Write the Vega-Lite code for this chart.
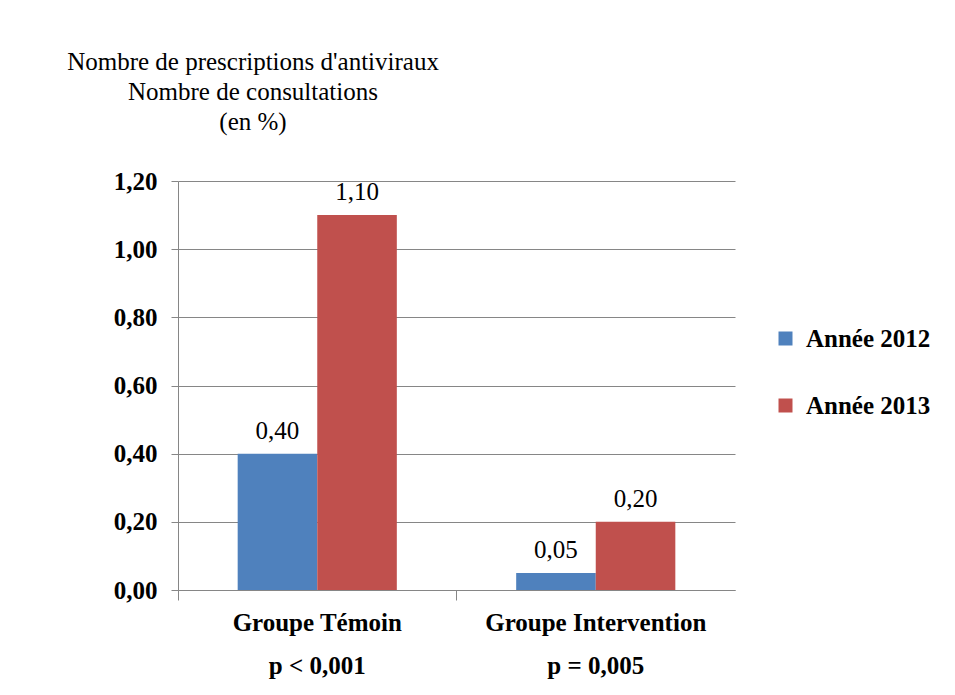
{
  "$schema": "https://vega.github.io/schema/vega-lite/v6.json",
  "autosize": {"type": "none"},
  "padding": {"left": 178, "top": 181, "right": 220, "bottom": 105},
  "width": 557,
  "height": 409,
  "background": "white",
  "title": {
    "text": ["Nombre de prescriptions d'antiviraux", "Nombre de consultations", "(en %)"],
    "anchor": "start",
    "frame": "group",
    "align": "center",
    "dx": 75,
    "offset": 34,
    "font": "Liberation Serif, Times New Roman, serif",
    "fontSize": 25,
    "fontWeight": "normal",
    "color": "black",
    "lineHeight": 30
  },
  "data": {
    "values": [
      {"group": "Groupe Témoin", "p": "p < 0,001", "year": "Année 2012", "value": 0.40},
      {"group": "Groupe Témoin", "p": "p < 0,001", "year": "Année 2013", "value": 1.10},
      {"group": "Groupe Intervention", "p": "p = 0,005", "year": "Année 2012", "value": 0.05},
      {"group": "Groupe Intervention", "p": "p = 0,005", "year": "Année 2013", "value": 0.20}
    ]
  },
  "encoding": {
    "x": {
      "field": "group",
      "type": "nominal",
      "sort": ["Groupe Témoin", "Groupe Intervention"],
      "scale": {"paddingInner": 0, "paddingOuter": 0},
      "axis": {
        "title": null,
        "labelAngle": 0,
        "bandPosition": 0,
        "tickSize": 10,
        "tickColor": "#868686",
        "domainColor": "#868686",
        "labelPadding": 10,
        "labelLimit": 0,
        "labelFont": "Liberation Serif, Times New Roman, serif",
        "labelFontSize": 25,
        "labelFontWeight": "bold",
        "labelColor": "black",
        "labelLineHeight": 43,
        "labelExpr": "datum.value == 'Groupe Témoin' ? ['Groupe Témoin', 'p < 0,001'] : ['Groupe Intervention', 'p = 0,005']"
      }
    },
    "xOffset": {
      "field": "year",
      "type": "nominal",
      "scale": {"paddingInner": 0, "paddingOuter": 0.75}
    },
    "y": {
      "field": "value",
      "type": "quantitative",
      "scale": {"domain": [0, 1.2]},
      "axis": {
        "title": null,
        "values": [0, 0.2, 0.4, 0.6, 0.8, 1.0, 1.2],
        "format": ".2f",
        "tickSize": 7,
        "tickColor": "#868686",
        "domainColor": "#868686",
        "gridColor": "#868686",
        "labelPadding": 14,
        "labelFont": "Liberation Serif, Times New Roman, serif",
        "labelFontSize": 25,
        "labelFontWeight": "bold",
        "labelColor": "black"
      }
    }
  },
  "layer": [
    {
      "mark": {"type": "bar"},
      "encoding": {
        "color": {
          "field": "year",
          "type": "nominal",
          "scale": {"domain": ["Année 2012", "Année 2013"], "range": ["#4F81BD", "#C0504D"]},
          "legend": {
            "title": null,
            "orient": "none",
            "legendX": 595,
            "legendY": 145,
            "padding": 0,
            "symbolType": "square",
            "symbolSize": 196,
            "symbolStrokeWidth": 0,
            "labelOffset": 8,
            "labelLimit": 0,
            "rowPadding": 41,
            "labelFont": "Liberation Serif, Times New Roman, serif",
            "labelFontSize": 25,
            "labelFontWeight": "bold",
            "labelColor": "black"
          }
        }
      }
    },
    {
      "mark": {"type": "text", "baseline": "bottom", "dy": -10, "font": "Liberation Serif, Times New Roman, serif", "fontSize": 25, "color": "black"},
      "encoding": {
        "text": {"field": "value", "type": "quantitative", "format": ".2f"}
      }
    }
  ],
  "config": {
    "view": {"stroke": null},
    "locale": {
      "number": {"decimal": ",", "thousands": " ", "grouping": [3], "currency": ["", " €"]}
    }
  }
}
